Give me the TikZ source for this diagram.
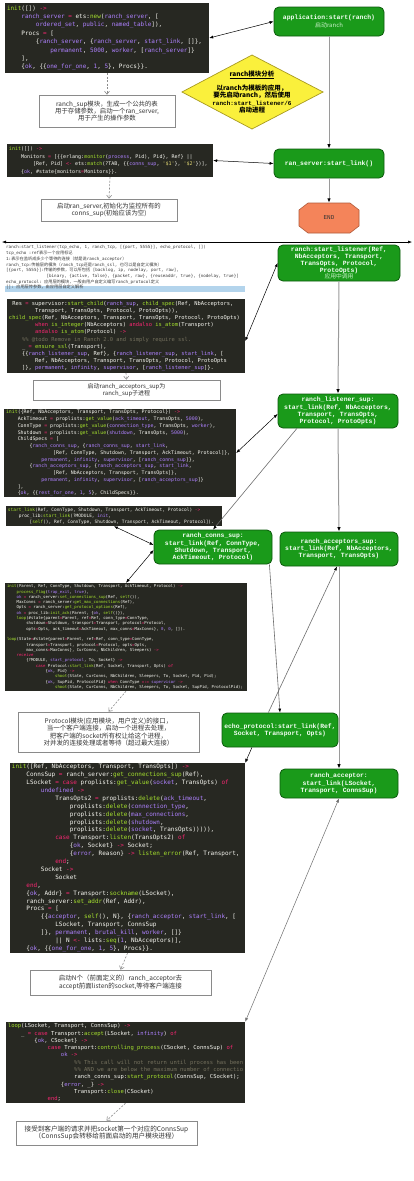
\documentclass[tikz,border=0pt]{standalone}
\usepackage{fontspec}
\setmonofont{DejaVu Sans Mono}
\newfontfamily\cjk{Noto Sans CJK SC}
\newfontfamily\liber{Liberation Mono}
\usetikzlibrary{arrows.meta,calc,fit}
\definecolor{codebg}{HTML}{272822}
\definecolor{cfg}{HTML}{F8F8F2}
\definecolor{ckw}{HTML}{F92672}
\definecolor{cfn}{HTML}{A6E22E}
\definecolor{cat}{HTML}{AE81FF}
\definecolor{cnm}{HTML}{AE81FF}
\definecolor{ccm}{HTML}{75715E}
\definecolor{cst}{HTML}{E6DB74}
\definecolor{gfill}{HTML}{1A9A1A}
\definecolor{gborder}{HTML}{0C5A0C}
\definecolor{gtext}{HTML}{F4FFF4}
\definecolor{gsub}{HTML}{C8F0C8}
\definecolor{dfill}{HTML}{FAF03C}
\definecolor{dborder}{HTML}{A89A20}
\definecolor{endfill}{HTML}{F4845A}
\definecolor{endborder}{HTML}{B05A3A}
\definecolor{tborder}{HTML}{8A8A8A}
\definecolor{ttext}{HTML}{333333}
\definecolor{stext}{HTML}{3A3A3A}
\definecolor{dgray}{HTML}{8C8C8C}
\definecolor{lgray}{HTML}{9A9A9A}
\definecolor{mgray}{HTML}{6E6E6E}
\definecolor{hlblue}{HTML}{B3D4EC}
\def\Ckw#1{\textcolor{ckw}{#1}}
\def\Cfn#1{\textcolor{cfn}{#1}}
\def\Cat#1{\textcolor{cat}{#1}}
\def\Cnm#1{\textcolor{cnm}{#1}}
\def\Ccm#1{\textcolor{ccm}{#1}}
\def\Cst#1{\textcolor{cst}{#1}}
\def\Ci#1{\hspace*{#1\dimexpr0.602em\relax}}
\def\Czh#1{{\cjk #1}}
\begin{document}
\begin{tikzpicture}[x=1pt,y=-1pt,
  codebg/.style={fill=codebg, draw=none, inner sep=0pt},
  code/.style={anchor=west, inner sep=0pt, align=left, text=cfg, xshift=2pt},
  gbox/.style={draw=gborder, fill=gfill, rounded corners=5pt, line width=0.8pt, inner sep=0pt, align=center, text=gtext, font=\liber\bfseries\fontsize{6.4}{7.2}\selectfont},
  tbox/.style={draw=tborder, fill=white, line width=0.7pt, inner sep=0pt, align=center, text=ttext, font=\cjk\fontsize{6.4}{7.2}\selectfont},
  dasharrow/.style={draw=dgray, line width=0.6pt, dash pattern=on 2pt off 1.5pt, -{Straight Barb[length=3pt,width=5pt]}},
  link/.style={draw=black, line width=0.5pt, {Latex[length=4pt,width=3pt]}-{Latex[length=4pt,width=3pt]}},
  flow/.style={draw=lgray, line width=1pt, -{Latex[length=4.5pt,width=3.5pt,color=black]}},
  thin flow/.style={draw=mgray, line width=0.6pt, -{Latex[length=4pt,width=3pt,color=black]}}
]
\fill[white] (0,0) rectangle (414,1181);
\useasboundingbox (0,0) rectangle (414,1181);

% ---------- code box 1
\node[codebg, fit={(5,3) (209,73)}] (c1) {};
\node[code, font=\ttfamily\fontsize{6}{8.4}\selectfont] (c1t) at (c1.west) {%
\Cfn{init}([]) \Ckw{->}\\
\Ci{4}\Cat{ranch\_server} \Ckw{=} ets:\Cfn{new}(\Cat{ranch\_server}, [\\
\Ci{8}\Cat{ordered\_set}, \Cat{public}, \Cat{named\_table}]),\\
\Ci{4}Procs \Ckw{=} [\\
\Ci{8}\{\Cat{ranch\_server}, \{\Cat{ranch\_server}, \Cat{start\_link}, []\},\\
\Ci{12}\Cat{permanent}, \Cnm{5000}, \Cat{worker}, [\Cat{ranch\_server}]\}\\
\Ci{4}],\\
\Ci{4}\{\Cat{ok}, \{\{\Cat{one\_for\_one}, \Cnm{1}, \Cnm{5}\}, Procs\}\}.};

% ---------- green 1
\node[gbox, minimum width=110pt, minimum height=29pt] (g1) at (329,21.5) {application:start(ranch)\\{\cjk\mdseries\color{gsub}\fontsize{6}{7.2}\selectfont 启动ranch}};

% ---------- diamond
\draw[fill=dfill, draw=dborder, line width=0.7pt] (252,55) -- (323,92) -- (252,129) -- (182,92) -- cycle;
\node[align=center, inner sep=0pt, font=\cjk\bfseries\fontsize{6.5}{7.4}\selectfont] (dm) at (252,92) {\underline{ranch模块分析}\\[5pt]以ranch为模板的应用，\\要先启动ranch，然后使用\\{\liber\bfseries\fontsize{6}{7.4}\selectfont ranch:start\_listener/6}\\启动进程};

% ---------- text box 1
\node[tbox, minimum width=136pt, minimum height=32pt] (t1) at (107,111) {ranch\_sup模块，生成一个公共的表\\用于存储参数，启动一个ran\_server,\\用于产生的操作参数};

% ---------- code box 2
\node[codebg, fit={(7,144) (213,177)}] (c2) {};
\node[code, font=\ttfamily\fontsize{5}{7.5}\selectfont] (c2t) at (c2.west) {%
\Cfn{init}([]) \Ckw{->}\\
\Ci{4}Monitors \Ckw{=} [\{\{erlang:\Cfn{monitor}(\Cat{process}, Pid), Pid\}, Ref\} ||\\
\Ci{8}[Ref, Pid] \Ckw{<-} ets:\Cfn{match}(?TAB, \{\{\Cat{conns\_sup}, \Cst{'\$1'}\}, \Cst{'\$2'}\})],\\
\Ci{4}\{\Cat{ok}, \#state\{monitors\Ckw{=}Monitors\}\}.};

% ---------- green 2
\node[gbox, minimum width=110pt, minimum height=29pt] (g2) at (329,163.5) {ran\_server:start\_link()};

% ---------- text box 2
\node[tbox, minimum width=136pt, minimum height=22pt] (t2) at (109,210) {启动ran\_server,初始化为监控所有的\\conns\_sup(初始应该为空)};

% ---------- END
\draw[fill=endfill, draw=endborder, line width=0.6pt] (308,203) -- (350,203) -- (359,210) -- (359,226) -- (350,233) -- (308,233) -- (299,226) -- (299,210) -- cycle;
\node[minimum width=60pt, minimum height=30pt, inner sep=0pt, text=black!80, font=\liber\fontsize{6}{7}\selectfont] (end) at (329,218) {END};

% ---------- separator
\coordinate (hl) at (2,242);
\coordinate (hr) at (412,242);
\draw[link] (hl) -- (hr);

% ---------- small notes
\node[fill=hlblue, fit={(5,285.5) (245,291.5)}, inner sep=0pt] (hlbar) {};
\node[anchor=north west, inner sep=0pt, align=left, text=stext, font=\ttfamily\fontsize{4.2}{5.7}\selectfont] (s) at (6,245.5) {%
ranch:start\_listener(tcp\_echo, 1, ranch\_tcp, [\{port, 5555\}], echo\_protocol, [])\\
tcp\_echo :ref\Czh{表示一个应用标记}\\
1:\Czh{表示在监听成多少个等待的连接（就是说}ranch\_acceptor\Czh{）}\\
ranch\_tcp:\Czh{传输层的模块（}ranch\_tcp\Czh{还是}ranch\_ssl, \Czh{也可以是自定义模块）}\\
{}[\{port, 5555\}]:\Czh{传输的参数，可以所包括} [backlog, ip, nodelay, port, raw],\\
\Ci{16}[binary, \{active, false\}, \{packet, raw\}, \{reuseaddr, true\}, \{nodelay, true\}]\\
echo\_protocol: \Czh{应用层的模块，一般由用户自定义编写}ranch\_protocol\Czh{定义}\\
{}[]: \Czh{应用层传参数，由应用层自定义解析}};

% ---------- green 3
\node[gbox, font=\liber\bfseries\fontsize{6.4}{6.9}\selectfont, minimum width=122pt, minimum height=36pt] (g3) at (339,263) {ranch:start\_listener(Ref,\\NbAcceptors, Transport,\\TransOpts, Protocol,\\ProtoOpts)\\{\cjk\mdseries\color{gsub}\fontsize{5.8}{6.9}\selectfont 应用中调用}};

% ---------- code box 3
\node[codebg, fit={(7,299) (245,373)}] (c3) {};
\node[code, font=\ttfamily\fontsize{5.4}{7.2}\selectfont] (c3t) at (c3.west) {%
\Ci{1}Res \Ckw{=} supervisor:\Cfn{start\_child}(\Cat{ranch\_sup}, \Cfn{child\_spec}(Ref, NbAcceptors,\\
\Ci{8}Transport, TransOpts, Protocol, ProtoOpts)),\\
\Cfn{child\_spec}(Ref, NbAcceptors, Transport, TransOpts, Protocol, ProtoOpts)\\
\Ci{8}\Ckw{when} \Cfn{is\_integer}(NbAcceptors) \Ckw{andalso} \Cfn{is\_atom}(Transport)\\
\Ci{8}\Ckw{andalso} \Cfn{is\_atom}(Protocol) \Ckw{->}\\
\Ci{4}\Ccm{\%\% @todo Remove in Ranch 2.0 and simply require ssl.}\\
\Ci{4}\_ \Ckw{=} \Cfn{ensure\_ssl}(Transport),\\
\Ci{4}\{\{\Cat{ranch\_listener\_sup}, Ref\}, \{\Cat{ranch\_listener\_sup}, \Cat{start\_link}, [\\
\Ci{8}Ref, NbAcceptors, Transport, TransOpts, Protocol, ProtoOpts\\
\Ci{4}]\}, \Cat{permanent}, \Cat{infinity}, \Cat{supervisor}, [\Cat{ranch\_listener\_sup}]\}.};

% ---------- text box 3
\node[tbox, font=\cjk\fontsize{6}{6.8}\selectfont, minimum width=187pt, minimum height=20pt] (t3) at (126.5,390) {启动ranch\_acceptors\_sup为\\ranch\_sup子进程};

% ---------- green 4
\node[gbox, minimum width=120pt, minimum height=34pt] (g4) at (338,411) {ranch\_listener\_sup:\\start\_link(Ref, NbAcceptors,\\Transport, TransOpts,\\Protocol, ProtoOpts)};

% ---------- code box 4
\node[codebg, fit={(4,409) (236,497)}] (c4) {};
\node[code, font=\ttfamily\fontsize{4.9}{6.75}\selectfont] (c4t) at (c4.west) {%
\Cfn{init}(\{Ref, NbAcceptors, Transport, TransOpts, Protocol\}) \Ckw{->}\\
\Ci{4}AckTimeout \Ckw{=} proplists:\Cfn{get\_value}(\Cat{ack\_timeout}, TransOpts, \Cnm{5000}),\\
\Ci{4}ConnType \Ckw{=} proplists:\Cfn{get\_value}(\Cat{connection\_type}, TransOpts, \Cat{worker}),\\
\Ci{4}Shutdown \Ckw{=} proplists:\Cfn{get\_value}(\Cat{shutdown}, TransOpts, \Cnm{5000}),\\
\Ci{4}ChildSpecs \Ckw{=} [\\
\Ci{8}\{\Cat{ranch\_conns\_sup}, \{\Cat{ranch\_conns\_sup}, \Cat{start\_link},\\
\Ci{16}[Ref, ConnType, Shutdown, Transport, AckTimeout, Protocol]\},\\
\Ci{12}\Cat{permanent}, \Cat{infinity}, \Cat{supervisor}, [\Cat{ranch\_conns\_sup}]\},\\
\Ci{8}\{\Cat{ranch\_acceptors\_sup}, \{\Cat{ranch\_acceptors\_sup}, \Cat{start\_link},\\
\Ci{16}[Ref, NbAcceptors, Transport, TransOpts]\},\\
\Ci{12}\Cat{permanent}, \Cat{infinity}, \Cat{supervisor}, [\Cat{ranch\_acceptors\_sup}]\}\\
\Ci{4}],\\
\Ci{4}\{\Cat{ok}, \{\{\Cat{rest\_for\_one}, \Cnm{1}, \Cnm{5}\}, ChildSpecs\}\}.};

% ---------- code box 5
\node[codebg, fit={(6,506) (222,526)}] (c5) {};
\node[code, font=\ttfamily\fontsize{4.5}{6.2}\selectfont] (c5t) at (c5.west) {%
\Cfn{start\_link}(Ref, ConnType, Shutdown, Transport, AckTimeout, Protocol) \Ckw{->}\\
\Ci{4}proc\_lib:\Cfn{start\_link}(?MODULE, \Cat{init},\\
\Ci{8}[\Cfn{self}(), Ref, ConnType, Shutdown, Transport, AckTimeout, Protocol]).};

% ---------- green 5, 6
\node[gbox, minimum width=118pt, minimum height=34pt] (g5) at (213,547) {ranch\_conns\_sup:\\start\_link(Ref, ConnType,\\Shutdown, Transport,\\AckTimeout, Protocol)};
\node[gbox, minimum width=118pt, minimum height=34pt] (g6) at (339,549) {ranch\_acceptors\_sup:\\start\_link(Ref, NbAcceptors,\\Transport, TransOpts)};

% ---------- code box 6
\node[codebg, fit={(5,583) (247,691)}] (c6) {};
\node[code, font=\ttfamily\fontsize{4}{5.3}\selectfont] (c6t) at (c6.west) {%
\Cfn{init}(Parent, Ref, ConnType, Shutdown, Transport, AckTimeout, Protocol) \Ckw{->}\\
\Ci{4}\Cfn{process\_flag}(\Cat{trap\_exit}, \Cat{true}),\\
\Ci{4}\Cat{ok} \Ckw{=} ranch\_server:\Cfn{set\_connections\_sup}(Ref, \Cfn{self}()),\\
\Ci{4}MaxConns \Ckw{=} ranch\_server:\Cfn{get\_max\_connections}(Ref),\\
\Ci{4}Opts \Ckw{=} ranch\_server:\Cfn{get\_protocol\_options}(Ref),\\
\Ci{4}\Cat{ok} \Ckw{=} proc\_lib:\Cfn{init\_ack}(Parent, \{\Cat{ok}, \Cfn{self}()\}),\\
\Ci{4}\Cfn{loop}(\#state\{parent\Ckw{=}Parent, ref\Ckw{=}Ref, conn\_type\Ckw{=}ConnType,\\
\Ci{8}shutdown\Ckw{=}Shutdown, transport\Ckw{=}Transport, protocol\Ckw{=}Protocol,\\
\Ci{8}opts\Ckw{=}Opts, ack\_timeout\Ckw{=}AckTimeout, max\_conns\Ckw{=}MaxConns\}, \Cnm{0}, \Cnm{0}, []).\\
\mbox{}\\
\Cfn{loop}(State\Ckw{=}\#state\{parent\Ckw{=}Parent, ref\Ckw{=}Ref, conn\_type\Ckw{=}ConnType,\\
\Ci{8}transport\Ckw{=}Transport, protocol\Ckw{=}Protocol, opts\Ckw{=}Opts,\\
\Ci{8}max\_conns\Ckw{=}MaxConns\}, CurConns, NbChildren, Sleepers) \Ckw{->}\\
\Ci{4}\Ckw{receive}\\
\Ci{8}\{?MODULE, \Cat{start\_protocol}, To, Socket\} \Ckw{->}\\
\Ci{12}\Ckw{case} Protocol:\Cfn{start\_link}(Ref, Socket, Transport, Opts) \Ckw{of}\\
\Ci{16}\{\Cat{ok}, Pid\} \Ckw{->}\\
\Ci{20}\Cfn{shoot}(State, CurConns, NbChildren, Sleepers, To, Socket, Pid, Pid);\\
\Ci{16}\{\Cat{ok}, SupPid, ProtocolPid\} \Ckw{when} ConnType \Ckw{=:=} \Cat{supervisor} \Ckw{->}\\
\Ci{20}\Cfn{shoot}(State, CurConns, NbChildren, Sleepers, To, Socket, SupPid, ProtocolPid);};

% ---------- text box 4
\node[tbox, font=\cjk\fontsize{6.5}{7.4}\selectfont, minimum width=181pt, minimum height=40pt] (t4) at (108.5,732) {Protocol模块(应用模块，用户定义)的接口，\\当一个客户端连接，启动一个进程去处理，\\把客户端的socket所有权让给这个进程，\\对并发的连接处理或者等待（超过最大连接）};

% ---------- green 7, 8
\node[gbox, minimum width=116pt, minimum height=34pt] (g7) at (280,730) {echo\_protocol:start\_link(Ref,\\Socket, Transport, Opts)};
\node[gbox, minimum width=118pt, minimum height=29pt] (g8) at (339,783.5) {ranch\_acceptor:\\start\_link(LSocket,\\Transport, ConnsSup)};

% ---------- code box 7
\node[codebg, fit={(10,763) (245,953)}] (c7) {};
\node[code, font=\ttfamily\fontsize{6}{7.9}\selectfont] (c7t) at (c7.west) {%
\Cfn{init}([Ref, NbAcceptors, Transport, TransOpts]) \Ckw{->}\\
\Ci{4}ConnsSup \Ckw{=} ranch\_server:\Cfn{get\_connections\_sup}(Ref),\\
\Ci{4}LSocket \Ckw{=} \Ckw{case} proplists:\Cfn{get\_value}(\Cat{socket}, TransOpts) \Ckw{of}\\
\Ci{8}\Cat{undefined} \Ckw{->}\\
\Ci{12}TransOpts2 \Ckw{=} proplists:\Cfn{delete}(\Cat{ack\_timeout},\\
\Ci{16}proplists:\Cfn{delete}(\Cat{connection\_type},\\
\Ci{16}proplists:\Cfn{delete}(\Cat{max\_connections},\\
\Ci{16}proplists:\Cfn{delete}(\Cat{shutdown},\\
\Ci{16}proplists:\Cfn{delete}(\Cat{socket}, TransOpts))))),\\
\Ci{12}\Ckw{case} Transport:\Cfn{listen}(TransOpts2) \Ckw{of}\\
\Ci{16}\{\Cat{ok}, Socket\} \Ckw{->} Socket;\\
\Ci{16}\{\Cat{error}, Reason\} \Ckw{->} \Cfn{listen\_error}(Ref, Transport,\\
\Ci{12}\Ckw{end};\\
\Ci{8}Socket \Ckw{->}\\
\Ci{12}Socket\\
\Ci{4}\Ckw{end},\\
\Ci{4}\{\Cat{ok}, Addr\} \Ckw{=} Transport:\Cfn{sockname}(LSocket),\\
\Ci{4}ranch\_server:\Cfn{set\_addr}(Ref, Addr),\\
\Ci{4}Procs \Ckw{=} [\\
\Ci{8}\{\{\Cat{acceptor}, \Cfn{self}(), N\}, \{\Cat{ranch\_acceptor}, \Cat{start\_link}, [\\
\Ci{12}LSocket, Transport, ConnsSup\\
\Ci{8}]\}, \Cat{permanent}, \Cat{brutal\_kill}, \Cat{worker}, []\}\\
\Ci{12}|| N \Ckw{<-} lists:\Cfn{seq}(\Cnm{1}, NbAcceptors)],\\
\Ci{4}\{\Cat{ok}, \{\{\Cat{one\_for\_one}, \Cnm{1}, \Cnm{5}\}, Procs\}\}.};

% ---------- text box 5
\node[tbox, font=\cjk\fontsize{6.5}{7.6}\selectfont, minimum width=181pt, minimum height=25pt] (t5) at (120.5,982.5) {启动N个（前面定义的）ranch\_acceptor去\\accept前面listen的socket,等待客户端连接};

% ---------- code box 8
\node[codebg, fit={(6,1022) (245,1103)}] (c8) {};
\node[code, font=\ttfamily\fontsize{5.5}{7.3}\selectfont] (c8t) at (c8.west) {%
\Cfn{loop}(LSocket, Transport, ConnsSup) \Ckw{->}\\
\Ci{4}\_ \Ckw{=} \Ckw{case} Transport:\Cfn{accept}(LSocket, \Cat{infinity}) \Ckw{of}\\
\Ci{8}\{\Cat{ok}, CSocket\} \Ckw{->}\\
\Ci{12}\Ckw{case} Transport:\Cfn{controlling\_process}(CSocket, ConnsSup) \Ckw{of}\\
\Ci{16}\Cat{ok} \Ckw{->}\\
\Ci{20}\Ccm{\%\% This call will not return until process has been}\\
\Ci{20}\Ccm{\%\% AND we are below the maximum number of connectio}\\
\Ci{20}ranch\_conns\_sup:\Cfn{start\_protocol}(ConnsSup, CSocket);\\
\Ci{16}\{\Cat{error}, \_\} \Ckw{->}\\
\Ci{20}Transport:\Cfn{close}(CSocket)\\
\Ci{12}\Ckw{end};};

% ---------- text box 6
\node[tbox, font=\cjk\fontsize{6.6}{7.4}\selectfont, minimum width=181pt, minimum height=24pt] (t6) at (106.5,1133) {接受到客户端的请求并把socket第一个对应的ConnsSup\\（ConnsSup会转移给前面启动的用户模块进程）};

% ---------- connectors
\draw[link] (c1.east) -- (g1.west);
\draw[dasharrow] (c1.south) -- (t1.north);
\draw[flow] (g1.south) -- (g2.north);
\draw[link] (c2.east) -- (g2.west);
\draw[dasharrow] (c2.south) -- (t2.north);
\draw[flow] (g2.south) -- (end.north);
\draw[link] ($(c3.east)+(0,5)$) -- (g3.west);
\draw[dasharrow] (c3.south) -- (t3.north);
\draw[flow] (g3.south) -- (g4.north);
\draw[link] ($(g4.west)+(0,3)$) -- (c4.east);
\draw[thin flow] ($(g4.south west)!0.16!(g4.south east)$) -- (g5.north);
\draw[flow] (g4.south) -- (g6.north);
\draw[link] (c5.south) -- ($(g5.west)+(0,-2)$);
\draw[link] ($(g5.west)+(0,3)$) -- (c6.north);
\draw[thin flow] ($(g5.south east)+(-3,0)$) -- (g7.north);
\draw[thin flow] ($(g7.north west)!0.4!(g7.north east)$) -- ($(g6.south)+(-2,0)$);
\draw[flow] (g6.south) -- (g8.north);
\draw[dasharrow] (c6.south) -- (t4.north);
\draw[draw=black, line width=0.5pt, -{Latex[length=4pt,width=3pt]}] ($(g7.south west)!0.26!(g7.south east)$) -- (c7.north east);
\draw[dasharrow] (c7.south) -- (t5.north);
\draw[link, draw=mgray] (g8.south) -- (c8.north east);
\draw[dasharrow] (c8.south) -- (t6.north);
\end{tikzpicture}
\end{document}
